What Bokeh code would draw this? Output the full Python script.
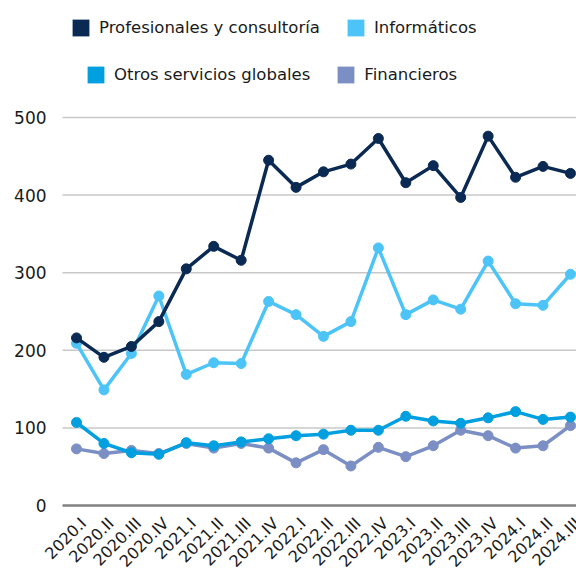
import numpy as np
from bokeh.plotting import figure
from bokeh.models import Range1d, Legend, LegendItem, ColumnDataSource
from bokeh.embed import file_html
from bokeh.resources import INLINE

quarters = ["2020.I", "2020.II", "2020.III", "2020.IV",
            "2021.I", "2021.II", "2021.III", "2021.IV",
            "2022.I", "2022.II", "2022.III", "2022.IV",
            "2023.I", "2023.II", "2023.III", "2023.IV",
            "2024.I", "2024.II", "2024.III"]
profesionales = [216, 191, 205, 237, 305, 334, 316, 445, 410, 430, 440, 473, 416, 438, 397, 476, 423, 437, 428]
informaticos = [209, 149, 196, 270, 169, 184, 183, 263, 246, 218, 237, 332, 246, 265, 253, 315, 260, 258, 298]
otros = [107, 80, 68, 66, 81, 77, 82, 86, 90, 92, 97, 97, 115, 109, 106, 113, 121, 111, 114]
financieros = [73, 67, 71, 67, 80, 74, 80, 74, 55, 72, 51, 75, 63, 77, 97, 90, 74, 77, 103]
y_ticks = [0, 100, 200, 300, 400, 500]

names = ["Profesionales y consultoría", "Informáticos", "Otros servicios globales", "Financieros"]
series = [profesionales, informaticos, otros, financieros]
colors = ["#0b2a53", "#4dc4f8", "#009fe0", "#7b8fc4"]

FONT = "DejaVu Sans"
TXT = "#1a1a1a"
x = list(range(len(quarters)))

X_LO, X_HI = -2.77, 18.22      # visible x window (category index units)
GRID_LO = -0.51                # where gridlines start
p = figure(width=576, height=572, output_backend="svg", toolbar_location=None,
           x_range=Range1d(X_LO, X_HI), y_range=Range1d(-86.3, 650.8),
           min_border_left=0, min_border_right=0, min_border_top=0, min_border_bottom=0)
p.outline_line_color = None
p.background_fill_color = "white"
p.border_fill_color = "white"
p.xaxis.visible = False
p.yaxis.visible = False
p.xgrid.grid_line_color = None
p.ygrid.grid_line_color = None

# gridlines and y tick labels from the tick list
grid = ColumnDataSource(dict(x0=[GRID_LO] * 5, x1=[X_HI] * 5, y=y_ticks[1:]))
p.segment("x0", "y", "x1", "y", source=grid, line_color="#c8c8c8", line_width=1.5)
p.segment(x0=[GRID_LO], y0=[y_ticks[0]], x1=[X_HI], y1=[y_ticks[0]], line_color="#808080", line_width=2.5)
ylab = ColumnDataSource(dict(x=[GRID_LO] * len(y_ticks), y=y_ticks, t=[str(v) for v in y_ticks]))
p.text("x", "y", text="t", source=ylab, text_align="right", text_baseline="middle",
       x_offset=-16, text_font={"value": FONT}, text_font_size={"value": "17px"}, text_color=TXT)

for vals, col in reversed(list(zip(series, colors))):
    src = ColumnDataSource(dict(x=x, y=vals))
    p.line("x", "y", source=src, line_color=col, line_width=3.5)
    p.scatter("x", "y", source=src, size=10, fill_color=col, line_color=col)

# x tick labels (rotated), drawn from the quarters list
lab_src = ColumnDataSource(dict(x=x, y=[0] * len(x), t=quarters))
p.text("x", "y", text="t", source=lab_src, angle=np.pi / 4, text_align="right",
       text_baseline="middle", x_offset=7, y_offset=15,
       text_font={"value": FONT}, text_font_size={"value": "16px"}, text_color=TXT)

# legend proxies (square swatches, off-screen)
proxies = []
for col in colors:
    r = p.quad(left=[-10], right=[-9], top=[-500], bottom=[-501], fill_color=col, line_color=None)
    proxies.append(r)

def make_legend(idx, xloc, yloc):
    return Legend(items=[LegendItem(label=names[i], renderers=[proxies[i]]) for i in idx],
                  orientation="horizontal", location=(xloc, yloc),
                  glyph_width=21, glyph_height=21, label_standoff=8, spacing=25,
                  padding=0, margin=0, border_line_color=None,
                  background_fill_alpha=0,
                  label_text_font=FONT, label_text_font_size="16.5px",
                  label_text_color=TXT, label_height=21)

p.add_layout(make_legend([0, 1], 70, 534), "center")
p.add_layout(make_legend([2, 3], 85, 487), "center")

open("out.html", "w").write(file_html(p, INLINE))
